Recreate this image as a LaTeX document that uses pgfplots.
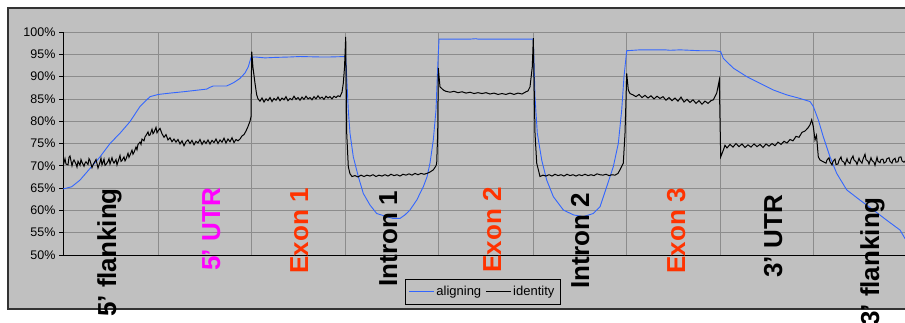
\documentclass[border=0pt]{standalone}
\usepackage{fontspec}
\setmainfont{Liberation Sans}
\usepackage{pgfplots}
\pgfplotsset{compat=1.18}
\definecolor{chartgray}{RGB}{192,192,192}
\definecolor{gridgray}{RGB}{140,140,140}
\definecolor{alignblue}{RGB}{51,102,255}
\definecolor{exonred}{RGB}{255,51,0}
\definecolor{utrmag}{RGB}{255,0,255}
\begin{document}
\begin{tikzpicture}
\useasboundingbox (0pt,0pt) rectangle (905pt,322pt);
\begin{scope}
\clip (0pt,0pt) rectangle (905pt,322pt);
\draw[fill=chartgray, draw=black!80, line width=1.3pt] (8pt,13pt) rectangle (920pt,314pt);
\begin{axis}[
  at={(63pt,67pt)}, anchor=south west,
  scale only axis, width=844pt, height=223pt,
  xmin=63, xmax=907, ymin=50, ymax=100,
  axis x line*=bottom, axis y line*=left,
  axis line style={black, line width=0.8pt},
  xtick={158.3,251,345.7,438.3,533.3,626.7,720.7,813.3},
  xticklabels={},
  x tick style={draw=none},
  ytick={50,55,...,100},
  yticklabels={50\%,55\%,60\%,65\%,70\%,75\%,80\%,85\%,90\%,95\%,100\%},
  y tick style={black, line width=0.8pt},
  major tick length=4pt,
  tick align=outside,
  yticklabel style={font=\fontsize{12.5}{14}\selectfont, black},
  xmajorgrids, ymajorgrids,
  grid style={gridgray, line width=0.8pt},
  legend columns=2,
  legend style={at={(axis description cs:0.497,-0.1637)}, anchor=center,
    draw=black, line width=0.8pt, fill=chartgray, font=\fontsize{13}{15}\selectfont,
    inner xsep=4pt, inner ysep=5.5pt,
    nodes={inner sep=1.5pt},
    /tikz/every even column/.append style={column sep=3pt}},
  legend image code/.code={\draw[#1] (0pt,0pt) -- (25pt,0pt);},
]
\addplot[alignblue, line width=0.9pt] coordinates {
(63,64.8) (71.7,65.3) (80,66.8) (90,69.4) (100,72.0) (110,75.0) (120,77.3) (130,79.9) (140,83.3) (150,85.5) (158.3,86.0) (170,86.3) (183.3,86.6) (195,86.9) (206.7,87.2) (210,87.6) (213.3,87.9) (226.7,87.9) (233.3,88.6) (240,89.6) (245,90.8) (248.3,92.2) (251,94.3) (255,94.4) (265,94.2) (275,94.3) (290,94.4) (300,94.5) (320,94.4) (330,94.4) (345.7,94.5) (346.7,90.0) (348.3,82.5) (350,77.3) (353.3,72.0) (358.3,67.6) (363.3,63.8) (370,61.2) (376.7,59.3) (386.7,58.6) (393,58.2) (400,58.2) (405,59.0) (410,60.1) (416.7,62.3) (423.3,65.3) (427,67.5) (430,70.6) (433.3,75.8) (436,82.5) (437.7,92.2) (439,98.4) (470,98.4) (476,98.5) (478,98.4) (533.3,98.4) (535,85.5) (537.3,77.3) (541.7,71.3) (546.7,66.8) (553.3,63.1) (563.3,60.1) (573.3,59.0) (583.3,58.6) (593.3,59.3) (600,60.8) (606.7,65.3) (613.3,69.8) (618.3,75.0) (621.7,82.5) (624,90.0) (626.7,95.8) (640,96.0) (665,96.0) (670,95.9) (680,96.0) (700,95.8) (715,95.8) (720.7,95.6) (723.3,94.1) (733.3,91.9) (746.7,90.0) (760,88.5) (773.3,87.0) (786.7,85.9) (800,85.1) (810,84.4) (813.3,83.3) (818.3,80.3) (823.3,76.5) (830,72.0) (836.7,68.3) (846.7,64.6) (860,62.3) (873.3,60.1) (886.7,57.8) (900,55.6) (905,53.7) (910,52.8)
};
\addlegendentry{aligning}
\addplot[black, line width=1pt] coordinates {
(63,69.8) (65,71.6) (66,70.4) (68,70.2) (69,71.9) (70,72.2) (72,70.0) (73,70.9) (74,71.3) (76,70.4) (77,69.7) (78,71.0) (80,70.1) (81,71.4) (82,70.8) (84,69.9) (85,70.6) (86,70.9) (88,70.3) (89,71.6) (90,71.2) (92,69.6) (93,70.2) (94,70.6) (96,71.4) (97,70.5) (98,69.5) (100,70.8) (101,71.7) (102,70.2) (104,71.5) (105,70.1) (106,70.3) (108,71.0) (109,71.6) (110,70.4) (112,71.8) (113,71.0) (114,70.6) (116,71.4) (117,70.2) (118,70.9) (120,72.3) (121,71.0) (122,71.2) (124,72.0) (125,71.1) (126,71.5) (128,72.8) (129,71.9) (130,72.4) (132,73.5) (133,72.6) (134,73.0) (136,74.2) (137,73.6) (138,74.8) (140,75.3) (141,74.8) (142,76.0) (144,75.6) (145,76.5) (146,76.8) (148,77.6) (149,76.8) (150,76.9) (152,78.2) (153,77.2) (154,77.5) (156,78.6) (157,77.4) (158,77.8)
(160,78.4) (162,77.2) (164,76.4) (166,77.0) (168,75.8) (170,76.3) (172,75.4) (174,76.0) (176,75.3) (178,75.9) (180,74.9) (182,75.6) (184,74.5) (186,75.4) (188,75.8) (190,75.0) (192,75.7) (194,74.7) (196,75.5) (198,75.1) (200,75.9) (202,74.8) (204,75.6) (206,75.0) (208,75.8) (210,74.9) (212,75.7) (214,75.2) (216,76.0) (218,75.0) (220,75.8) (222,75.3) (224,76.2) (226,75.1) (228,76.0) (230,75.4) (232,76.3) (234,75.2) (236,75.9) (238,75.6) (240,76.0) (242,76.7) (244,77.0) (246,77.8) (248,78.8) (250,80.0) (251,81.0) (251.7,95.6)
(253,92.0) (255,88.5) (256.7,85.9) (258,85.0) (260,84.5) (262,85.2) (264,84.3) (266,85.0) (268,84.6) (270,85.3) (272,84.4) (274,85.1) (276,84.7) (278,85.4) (280,84.6) (282,85.2) (284,84.8) (286,85.5) (288,84.6) (290,85.1) (292,84.8) (294,85.6) (296,84.9) (298,85.3) (300,84.7) (302,85.4) (304,84.9) (306,85.6) (308,85.0) (310,85.3) (312,84.8) (314,85.5) (316,85.0) (318,85.7) (320,85.1) (322,85.4) (324,84.9) (326,85.6) (328,85.2) (330,85.5) (332,85.0) (334,85.6) (336,85.3) (338,85.7) (340,85.5) (342,86.5) (343.3,88.5) (344.5,92.0) (345.7,98.9)
(346.7,77.3) (348.3,69.8) (350,68.2) (352,67.6) (355,67.8) (358,67.5) (361,67.9) (364,67.6) (367,67.9) (370,67.7) (373,68.0) (376,67.6) (379,67.9) (382,67.7) (385,68.0) (388,67.7) (391,68.1) (394,67.8) (397,68.0) (400,67.7) (403,68.1) (406,67.9) (409,68.2) (412,67.9) (415,68.3) (418,68.0) (421,68.3) (424,68.1) (427,68.3) (430,68.6) (433.3,69.1) (436,70.0) (436.7,70.6) (437.7,77.3) (438.3,91.9)
(440,87.7) (443.3,87.0) (446,86.7) (450,86.5) (454,86.7) (458,86.4) (462,86.6) (466,86.3) (470,86.5) (474,86.2) (478,86.4) (482,86.2) (486,86.4) (490,86.1) (494,86.3) (498,86.0) (502,86.2) (506,86.0) (510,86.3) (514,86.0) (518,86.3) (522,86.1) (526,86.6) (528,86.8) (530,87.7) (532.3,92.2) (533.3,98.6)
(535,77.3) (536.7,70.6) (540,67.6) (543,67.9) (546,67.7) (549,68.0) (552,67.7) (555,68.1) (558,67.8) (561,68.0) (564,67.7) (567,68.1) (570,67.8) (573,68.0) (576,67.7) (579,68.0) (582,67.8) (585,68.1) (588,67.8) (591,68.0) (594,67.8) (597,68.2) (600,68.0) (603,67.9) (606,68.1) (609,67.8) (612,68.0) (615,67.9) (618,68.3) (620,69.1) (623.3,70.6) (625,77.3) (626,84.8) (626.7,90.7)
(628.3,87.0) (630,86.2) (633,85.9) (636,85.5) (639,86.0) (642,85.3) (645,85.8) (648,85.2) (651,85.7) (654,85.0) (657,85.6) (660,85.1) (663,85.5) (666,84.7) (669,85.3) (672,84.6) (675,85.2) (678,84.5) (681,85.4) (684,84.3) (687,84.9) (690,84.2) (693,84.8) (696,84.0) (699,84.6) (702,83.8) (705,84.5) (708,84.0) (711,84.6) (713.3,84.8) (716.7,86.3) (719.3,89.2) (720.7,72.0)
(723.3,73.5) (725,74.6) (727,74.0) (730,74.8) (733,74.2) (736,75.0) (739,74.3) (742,74.9) (745,74.1) (748,74.7) (751,74.2) (754,74.9) (757,74.3) (760,74.8) (763,74.1) (766,74.9) (769,74.4) (772,75.0) (775,74.5) (778,75.3) (781,74.8) (784,75.5) (787,75.1) (790,75.9) (793,75.6) (796,76.6) (799,76.4) (802,77.5) (805,77.8) (808,78.5) (810,79.2) (811.7,80.3) (813.3,78.8) (815,75.8) (816.5,76.8) (818.3,72.0) (820,71.3) (823.3,70.9)
(826,70.6) (827,71.3) (829,71.8) (830,70.9) (832,70.2) (833,71.0) (835,71.5) (836,70.3) (838,70.4) (839,71.2) (841,72.0) (842,71.1) (844,70.8) (845,70.2) (847,71.6) (848,70.9) (850,70.5) (851,71.4) (853,72.2) (854,71.3) (856,70.9) (857,70.3) (859,71.7) (860,71.1) (862,70.6) (863,71.5) (865,72.6) (866,71.4) (868,71.0) (869,70.4) (871,71.8) (872,71.2) (874,70.8) (875,70.1) (877,71.9) (878,71.0) (880,70.7) (881,71.4) (883,71.5) (884,70.6) (886,70.9) (887,71.6) (889,71.8) (890,71.0) (892,70.6) (893,71.3) (895,71.7) (896,70.8) (898,70.9) (899,71.9) (901,72.0) (902,71.1) (904,70.8) (907,71.5)
};
\addlegendentry{identity}
\end{axis}
\begin{scope}[every node/.style={rotate=90, anchor=base east, inner sep=0pt, font=\fontsize{26}{30}\selectfont\bfseries}]
\node[black]   at (116pt,134pt) {5' flanking};
\node[utrmag]  at (220pt,134pt) {5' UTR};
\node[exonred] at (308pt,134pt) {Exon 1};
\node[black]   at (397pt,131pt) {Intron 1};
\node[exonred] at (501pt,135pt) {Exon 2};
\node[black]   at (589pt,129pt) {Intron 2};
\node[exonred] at (685pt,134pt) {Exon 3};
\node[black]   at (782pt,127pt) {3' UTR};
\node[black]   at (879pt,125pt) {3' flanking};
\end{scope}
\end{scope}
\end{tikzpicture}
\end{document}
